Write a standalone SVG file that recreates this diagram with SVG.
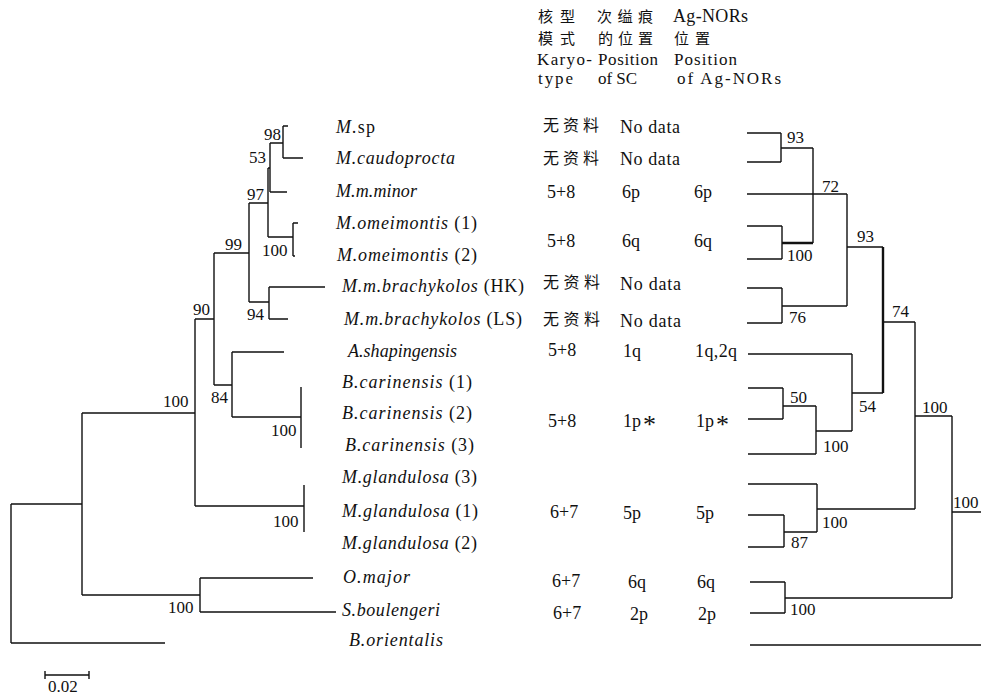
<svg xmlns="http://www.w3.org/2000/svg" width="981" height="699" viewBox="0 0 981 699">
<style>
text{font-family:"Liberation Serif","Noto Sans CJK SC",serif;font-size:18px;fill:#111}
.cjk{font-family:"Noto Sans CJK SC","Liberation Serif",sans-serif;font-size:16px}
.hc{font-size:15px}
.hl{font-size:17px}
.tx{font-style:italic}
.up{font-style:normal}
.bs{font-size:17px}
.e{text-anchor:end}
.st{font-size:26px}
path{fill:none;stroke:#111;stroke-width:1.4}
.thick{stroke-width:2.4}
</style>
<rect width="981" height="699" fill="#fff"/>
<g id="header">
<text class="cjk hc" x="538" y="22" textLength="37">核型</text>
<text class="cjk hc" x="597" y="22" textLength="56">次缢痕</text>
<text x="673" y="22" textLength="75">Ag-NORs</text>
<text class="cjk hc" x="538" y="44" textLength="37">模式</text>
<text class="cjk hc" x="598" y="44" textLength="55">的位置</text>
<text class="cjk hc" x="674" y="44" textLength="36">位置</text>
<text class="hl" x="537" y="65" textLength="55">Karyo-</text>
<text class="hl" x="598" y="65" textLength="60">Position</text>
<text class="hl" x="674" y="65" textLength="63">Position</text>
<text class="hl" x="538" y="84" textLength="35">type</text>
<text class="hl" x="598" y="84" textLength="39">of SC</text>
<text class="hl" x="677" y="84" textLength="104">of Ag-NORs</text>
</g>
<g id="connectors">
<path d="M283,126H288M283,158H303M283,126V158M270,143H283M270,192H287M270,143V192M268,168H270M268,168V237M268,237H293M293,223V256M293,223H298M293,256H295M249,203H268M249,203V302M249,302H269M269,287V319M269,287H325M269,319H288M214,253H249M214,253V385M214,385H232M232,352V417M232,352H284M232,417H301M301,387V448M195,319H214M195,319V506M82,413H195M195,506H304M304,485V532M82,413V595M82,595H200M200,578V612M200,578H313M200,612H336M11,504H82M11,504V643M11,643H165"/>
<path d="M45,675H89M45,671V679M89,671V679"/>
<path d="M747,133H781M747,162H781M781,133V162M781,148H813M747,226H782M747,259H782M782,226V259M813,148V243M747,194H847M747,288H782M747,323H782M782,288V323M782,306H847M847,194V306M847,247H883M748,354H852M852,354V431M816,431H852M852,393H883M748,388H783M748,419H783M783,388V419M783,406H816M816,406V454M748,454H816M883,322H915M915,322V509M817,509H915M748,484H817M817,484V532M784,532H817M748,515H784M748,547H784M784,515V547M915,416H952M952,416V598M785,598H952M750,582H785M750,613H785M785,582V613M952,512H981M750,645H981"/>
<path class="thick" d="M782,243H813M883,247V393"/>
</g>
<g id="support">
<text class="bs e" x="281" y="140">98</text>
<text class="bs e" x="266" y="163">53</text>
<text class="bs e" x="264" y="200">97</text>
<text class="bs" x="262" y="256">100</text>
<text class="bs" x="225" y="250">99</text>
<text class="bs" x="247" y="320">94</text>
<text class="bs" x="193" y="315">90</text>
<text class="bs" x="163" y="407">100</text>
<text class="bs" x="211" y="403">84</text>
<text class="bs" x="271" y="436">100</text>
<text class="bs" x="273" y="527">100</text>
<text class="bs" x="168" y="613">100</text>
<text class="bs" x="787" y="143">93</text>
<text class="bs" x="822" y="192">72</text>
<text class="bs" x="787" y="261">100</text>
<text class="bs" x="857" y="242">93</text>
<text class="bs" x="789" y="323">76</text>
<text class="bs" x="892" y="317">74</text>
<text class="bs" x="790" y="403">50</text>
<text class="bs" x="859" y="412">54</text>
<text class="bs" x="823" y="452">100</text>
<text class="bs" x="922" y="413">100</text>
<text class="bs" x="822" y="528">100</text>
<text class="bs" x="791" y="548">87</text>
<text class="bs" x="953" y="508">100</text>
<text class="bs" x="790" y="615">100</text>
<text class="bs" x="48" y="692">0.02</text>
</g>
<g id="t-msp"><text class="tx" x="336" y="133" textLength="39">M.<tspan class="up">sp</tspan></text><text class="cjk" x="543" y="131" textLength="56">无资料</text><text x="620" y="133" textLength="60">No data</text></g>
<g id="t-mcaudoprocta"><text class="tx" x="336" y="164" textLength="119">M.caudoprocta</text><text class="cjk" x="543" y="164" textLength="56">无资料</text><text x="620" y="165" textLength="60">No data</text></g>
<g id="t-mmminor"><text class="tx" x="336" y="197" textLength="81">M.m.minor</text><text x="547" y="198">5+8</text><text x="622" y="198">6p</text><text x="694" y="198">6p</text></g>
<g id="t-momeimontis1"><text class="tx" x="336" y="229" textLength="141">M.omeimontis <tspan class="up">(1)</tspan></text></g>
<g id="t-momeimontis2"><text class="tx" x="337" y="261" textLength="140">M.omeimontis <tspan class="up">(2)</tspan></text><text x="547" y="247">5+8</text><text x="622" y="247">6q</text><text x="694" y="247">6q</text></g>
<g id="t-brachyHK"><text class="tx" x="342" y="292" textLength="182">M.m.brachykolos <tspan class="up">(HK)</tspan></text><text class="cjk" x="543" y="288" textLength="57">无资料</text><text x="620" y="290" textLength="61">No data</text></g>
<g id="t-brachyLS"><text class="tx" x="344" y="325" textLength="178">M.m.brachykolos <tspan class="up">(LS)</tspan></text><text class="cjk" x="543" y="325" textLength="57">无资料</text><text x="620" y="327" textLength="61">No data</text></g>
<g id="t-ashap"><text class="tx" x="348" y="357" textLength="109">A.shapingensis</text><text x="548" y="356">5+8</text><text x="623" y="357">1q</text><text x="695" y="357" textLength="42">1q,2q</text></g>
<g id="t-bcar1"><text class="tx" x="342" y="388" textLength="130">B.carinensis <tspan class="up">(1)</tspan></text></g>
<g id="t-bcar2"><text class="tx" x="342" y="419" textLength="130">B.carinensis <tspan class="up">(2)</tspan></text><text x="548" y="427">5+8</text><text x="623" y="427">1p<tspan class="st" x="643" dy="6">*</tspan></text><text x="696" y="427">1p<tspan class="st" x="716" dy="6">*</tspan></text></g>
<g id="t-bcar3"><text class="tx" x="345" y="451" textLength="129">B.carinensis <tspan class="up">(3)</tspan></text></g>
<g id="t-mgl3"><text class="tx" x="342" y="483" textLength="135">M.glandulosa <tspan class="up">(3)</tspan></text></g>
<g id="t-mgl1"><text class="tx" x="342" y="517" textLength="136">M.glandulosa <tspan class="up">(1)</tspan></text><text x="550" y="518">6+7</text><text x="623" y="519">5p</text><text x="696" y="519">5p</text></g>
<g id="t-mgl2"><text class="tx" x="342" y="549" textLength="135">M.glandulosa <tspan class="up">(2)</tspan></text></g>
<g id="t-omajor"><text class="tx" x="343" y="583" textLength="67">O.major</text><text x="552" y="587">6+7</text><text x="628" y="588">6q</text><text x="697" y="588">6q</text></g>
<g id="t-sboul"><text class="tx" x="342" y="616" textLength="98">S.boulengeri</text><text x="553" y="619">6+7</text><text x="630" y="620">2p</text><text x="698" y="620">2p</text></g>
<g id="t-borient"><text class="tx" x="349" y="646" textLength="94">B.orientalis</text></g>
</svg>
